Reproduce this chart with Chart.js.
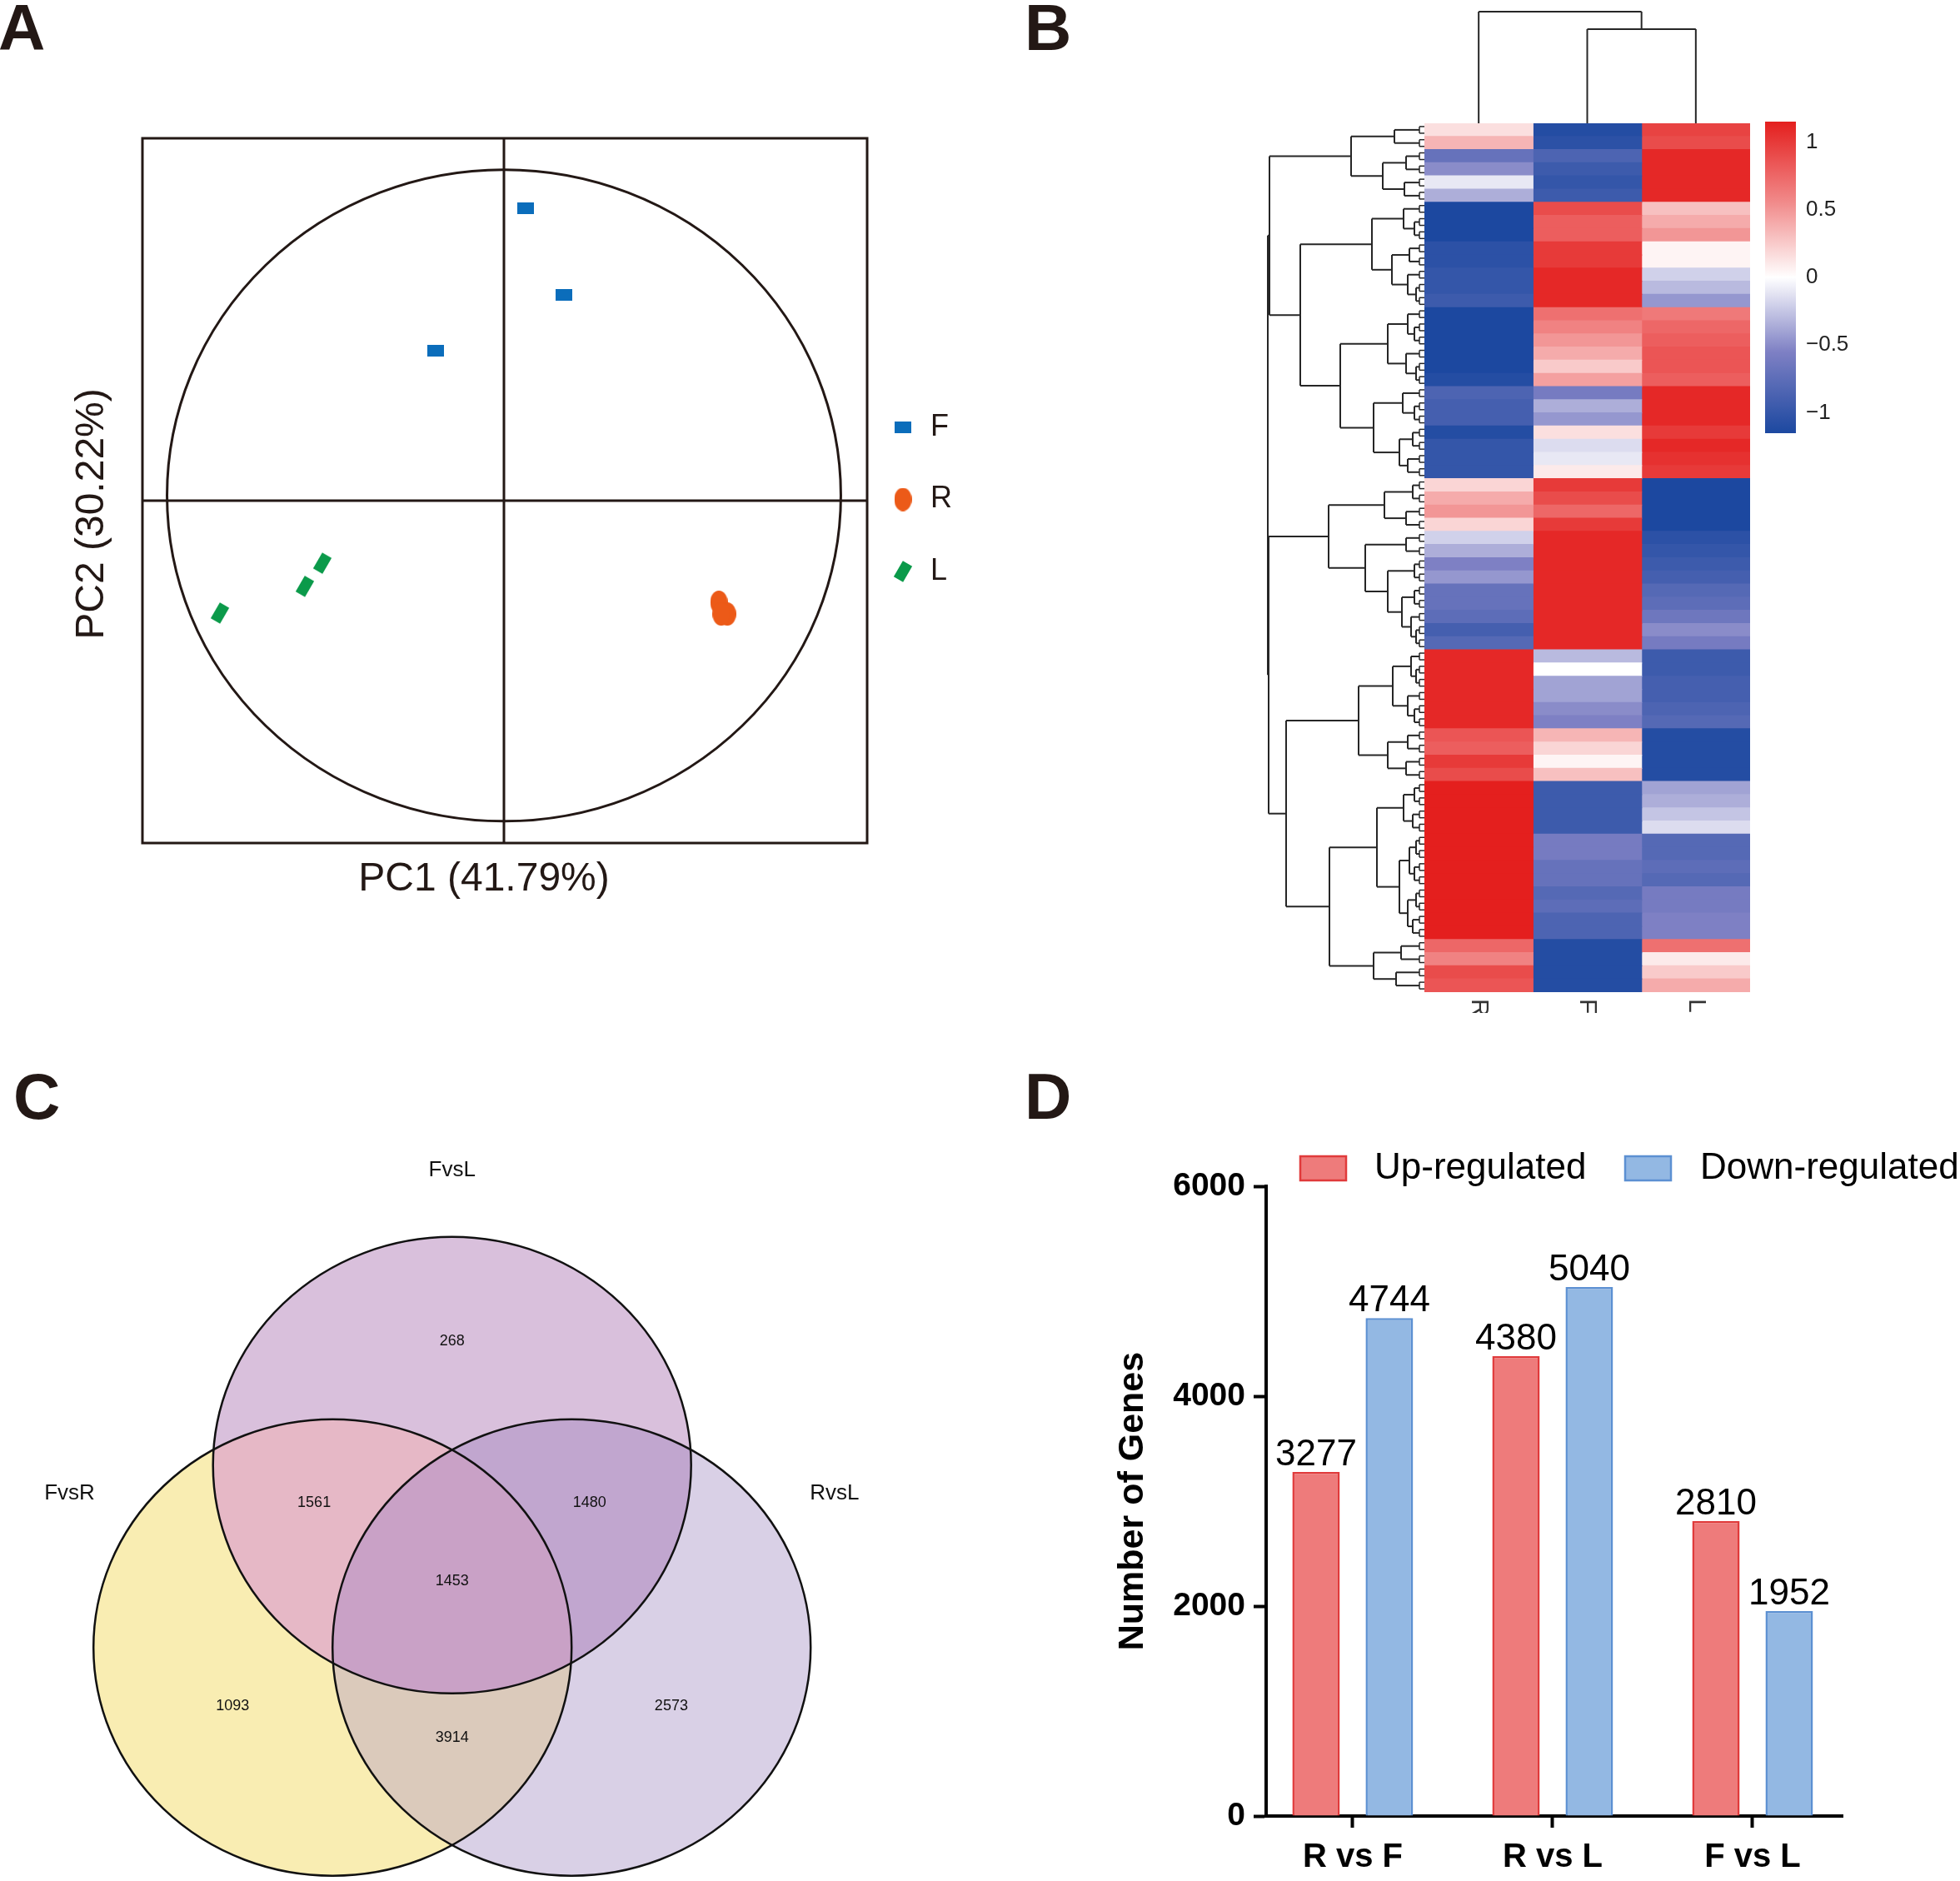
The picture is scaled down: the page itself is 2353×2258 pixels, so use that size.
<!DOCTYPE html>
<html>
<head>
<meta charset="utf-8">
<script src="https://cdn.jsdelivr.net/npm/chart.js@4.4.1/dist/chart.umd.min.js"></script>
<style>
html, body { margin: 0; padding: 0; background: #fff; }
body { width: 2353px; height: 2258px; position: relative; overflow: hidden; }
canvas { position: absolute; }
.tag { position: absolute; font: bold 78px/78px "Liberation Sans", Arial, sans-serif; color: #231815; }
</style>
</head>
<body>
<div class="tag" style="left:-2px;top:-6px">A</div>
<div class="tag" style="left:1230px;top:-6px">B</div>
<div class="tag" style="left:16px;top:1277px">C</div>
<div class="tag" style="left:1230px;top:1277px">D</div>
<canvas id="pca" style="left:0;top:0" width="1240" height="1130"></canvas>
<canvas id="heat" style="left:1480px;top:0" width="873" height="1240"></canvas>
<canvas id="venn" style="left:0;top:1250px" width="1150" height="1008"></canvas>
<canvas id="deg" style="left:1290px;top:1330px" width="1063" height="928"></canvas>
<script>
// ---- A: PCA scores ----
const pc1F = [0.064, 0.178, -0.203];
const pc2F = [0.898, 0.632, 0.46];
const pc1R = [0.638, 0.663, 0.645];
const pc2R = [-0.312, -0.348, -0.348];
const pc1L = [-0.539, -0.591, -0.843];
const pc2L = [-0.192, -0.263, -0.345];

// ---- B: row z-scores, top to bottom ----
const heatSamples = ["R", "F", "L"];
const heatR = [0.15, 0.35, -0.7, -0.5, -0.1, -0.35, -1.15, -1.15, -1.15, -1.05, -1.05, -1.0, -1.0, -0.95,
  -1.15, -1.15, -1.15, -1.15, -1.15, -1.1, -0.85, -0.9, -0.9, -1.1, -1.0, -1.0, -1.0,
  0.2, 0.4, 0.5, 0.2, -0.2, -0.35, -0.55, -0.45, -0.7, -0.7, -0.75, -0.9, -0.8,
  1.1, 1.1, 1.1, 1.1, 1.1, 1.1, 0.85, 0.8, 1.0, 0.9,
  1.15, 1.15, 1.15, 1.15, 1.15, 1.15, 1.15, 1.15, 1.15, 1.15, 1.15, 1.15, 0.75, 0.6, 0.9, 0.85];
const heatF = [-1.1, -1.05, -0.85, -0.95, -1.0, -0.95, 0.9, 0.8, 0.8, 1.0, 1.0, 1.1, 1.1, 1.1,
  0.7, 0.6, 0.5, 0.4, 0.25, 0.45, -0.6, -0.35, -0.45, 0.15, -0.15, -0.1, 0.1,
  1.0, 0.9, 0.75, 1.0, 1.1, 1.1, 1.1, 1.1, 1.1, 1.1, 1.1, 1.1, 1.1,
  -0.3, 0.0, -0.4, -0.4, -0.5, -0.55, 0.35, 0.2, 0.05, 0.3,
  -0.95, -0.95, -0.95, -0.95, -0.6, -0.6, -0.7, -0.7, -0.8, -0.75, -0.85, -0.85, -1.1, -1.1, -1.1, -1.1];
const heatL = [0.95, 0.9, 1.1, 1.1, 1.1, 1.1, 0.3, 0.4, 0.5, 0.05, 0.05, -0.2, -0.3, -0.45,
  0.65, 0.75, 0.8, 0.85, 0.85, 0.8, 1.1, 1.1, 1.1, 1.0, 1.1, 1.05, 1.0,
  -1.15, -1.15, -1.15, -1.15, -1.05, -1.0, -0.95, -0.9, -0.8, -0.75, -0.65, -0.5, -0.6,
  -0.95, -0.95, -0.9, -0.9, -0.85, -0.8, -1.1, -1.1, -1.1, -1.1,
  -0.4, -0.35, -0.25, -0.15, -0.8, -0.8, -0.75, -0.8, -0.6, -0.6, -0.55, -0.55, 0.7, 0.1, 0.25, 0.4];
const colorbarTicks = [1, 0.5, 0, -0.5, -1];
// row tree: [height, left, right], leaves are row indices
const rowTree = [188,
  [186,
    [88, [36, 0, 1], [50, [22, 2, 3], [24, 4, 5]]],
    [149,
      [63, [25, 6, [12, 7, 8]], [39, [18, 9, 10], [20, 11, [10, 12, 13]]]],
      [101, [44, [20, 14, [12, 15, 16]], [22, 17, [10, 18, 19]]],
            [61, [26, 20, [12, 21, 22]], [30, [14, 23, 24], [20, 25, 26]]]]]],
  [187,
    [115, [48, [14, 27, 28], [22, 29, 30]],
          [71, [22, 31, 32], [44, [12, 33, 34], [27, [12, 35, 36], [16, 37, [10, 38, 39]]]]]],
    [166,
      [79, [38, [16, 40, [10, 41, 42]], [20, 43, [12, 44, 45]]], [44, [20, 46, 47], [22, 48, 49]]],
      [114, [57, [25, [12, 50, 51], [14, 52, 53]], [30, [18, [10, 54, 55], [12, 56, 57]], [20, [10, 58, 59], [14, 60, 61]]]],
            [61, [28, 62, 63], [34, 64, 65]]]]]];
const colTree = [134, 0, [113, 1, 2]];

// ---- C: Venn counts ----
const vennSets = ["FvsL", "FvsR", "RvsL"];
const vennRegions = ["FvsL", "FvsR", "RvsL", "FvsL&FvsR", "FvsL&RvsL", "FvsR&RvsL", "FvsL&FvsR&RvsL"];
const vennCounts = [268, 1093, 2573, 1561, 1480, 3914, 1453];

// ---- D: DEG counts ----
const comparisons = ["R vs F", "R vs L", "F vs L"];
const upRegulated = [3277, 4380, 2810];
const downRegulated = [4744, 5040, 1952];

const FONT = '"Liberation Sans", Arial, Helvetica, sans-serif';
Chart.defaults.font.family = FONT;
Chart.defaults.animation = false;
Chart.defaults.plugins.legend.display = false;
Chart.defaults.plugins.tooltip.enabled = false;

// ---------- A ----------
function marker(w, h, draw) {
    const c = document.createElement("canvas");
    c.width = w;
    c.height = h;
    draw(c.getContext("2d"), w, h);
    return c;
}
const mkF = marker(20, 14, (g, w, h) => { g.fillStyle = "#0b6dbb"; g.fillRect(0, 0, w, h); });
const mkR = marker(21, 28, (g, w, h) => {
    g.fillStyle = "#ec5a18";
    g.beginPath();
    g.ellipse(w / 2, h / 2, w / 2, h / 2, 0, 0, Math.PI * 2);
    g.fill();
});
const mkL = marker(26, 28, (g, w, h) => {
    g.fillStyle = "#0b9a4a";
    g.translate(w / 2, h / 2);
    g.rotate(Math.PI / 6);
    g.fillRect(-6.5, -11, 13, 22);
});
const pcaMarkers = [mkF, mkR, mkL];

const pcaFrame = {
    id: "pcaFrame",
    beforeDatasetsDraw(chart) {
        const { ctx, chartArea: a, scales: { x, y } } = chart;
        ctx.save();
        ctx.strokeStyle = "#231815";
        ctx.lineWidth = 3;
        ctx.strokeRect(a.left, a.top, a.width, a.height);
        const x0 = x.getPixelForValue(0), y0 = y.getPixelForValue(0);
        ctx.beginPath();
        ctx.moveTo(x0, a.top); ctx.lineTo(x0, a.bottom);
        ctx.moveTo(a.left, y0); ctx.lineTo(a.right, y0);
        ctx.stroke();
        const cy = y.getPixelForValue(0.016);
        ctx.beginPath();
        ctx.ellipse(x0, cy, x.getPixelForValue(1) - x0, y0 - y.getPixelForValue(1), 0, 0, Math.PI * 2);
        ctx.stroke();
        ctx.restore();
    },
    afterDraw(chart) {
        const ctx = chart.ctx;
        ctx.save();
        ctx.fillStyle = "#231815";
        ctx.font = "48px " + FONT;
        ctx.textAlign = "center";
        ctx.textBaseline = "middle";
        ctx.fillText("PC1 (41.79%)", 581, 1056);
        ctx.translate(111, 617);
        ctx.rotate(-Math.PI / 2);
        ctx.fillText("PC2 (30.22%)", 0, 0);
        ctx.restore();
        ctx.save();
        ctx.fillStyle = "#231815";
        ctx.font = "36px " + FONT;
        ctx.textBaseline = "middle";
        chart.data.datasets.forEach((ds, i) => {
            const ly = 513 + i * 86.5, m = pcaMarkers[i];
            ctx.drawImage(m, 1084 - m.width / 2, ly - m.height / 2);
            ctx.fillText(ds.label, 1117, ly);
        });
        ctx.restore();
    },
};

new Chart(document.getElementById("pca"), {
    type: "scatter",
    data: {
        datasets: [
            { label: "F", data: pc1F.map((v, i) => ({ x: v, y: pc2F[i] })), pointStyle: mkF },
            { label: "R", data: pc1R.map((v, i) => ({ x: v, y: pc2R[i] })), pointStyle: mkR },
            { label: "L", data: pc1L.map((v, i) => ({ x: v, y: pc2L[i] })), pointStyle: mkL },
        ],
    },
    options: {
        responsive: false,
        layout: { padding: { left: 171, top: 166, right: 199, bottom: 118 } },
        scales: {
            x: { display: false, min: -1.073, max: 1.078 },
            y: { display: false, min: -1.051, max: 1.1125 },
        },
    },
    plugins: [pcaFrame],
});

// ---------- B ----------
const heatStops = [[-1.15, [28, 72, 160]], [-0.55, [126, 128, 196]], [0, [255, 255, 255]], [0.55, [241, 139, 139]], [1.15, [228, 31, 30]]];
function zColor(v) {
    v = Math.max(-1.15, Math.min(1.15, v));
    for (let i = 1; i < heatStops.length; i++) {
        const [v1, c1] = heatStops[i];
        const [v0, c0] = heatStops[i - 1];
        if (v <= v1) {
            const t = (v - v0) / (v1 - v0);
            const c = c0.map((k, j) => Math.round(k + (c1[j] - k) * t));
            return `rgb(${c[0]},${c[1]},${c[2]})`;
        }
    }
    return "rgb(228,31,30)";
}
const heatCols = [heatR, heatF, heatL];
const rowIds = heatR.map((_, i) => "gene cluster " + (i + 1));
const leafStub = 6;

const heatDecor = {
    id: "heatDecor",
    afterDatasetsDraw(chart) {
        const { ctx, chartArea: a, scales: { x, y } } = chart;
        ctx.save();
        ctx.strokeStyle = "#262626";
        ctx.lineWidth = 2;
        const seg = (x1, y1, x2, y2) => { ctx.beginPath(); ctx.moveTo(x1, y1); ctx.lineTo(x2, y2); ctx.stroke(); };
        const rx = h => a.left - h;
        const rowNode = n => {
            if (typeof n === "number") {
                const p = y.getPixelForValue(n);
                ctx.lineWidth = 1.5;
                seg(rx(leafStub), p - 4, rx(leafStub), p + 4);
                seg(rx(leafStub), p - 4, a.left, p - 4);
                seg(rx(leafStub), p + 4, a.left, p + 4);
                ctx.lineWidth = 2;
                return { p, h: leafStub };
            }
            const c1 = rowNode(n[1]), c2 = rowNode(n[2]);
            seg(rx(c1.h), c1.p, rx(n[0]), c1.p);
            seg(rx(c2.h), c2.p, rx(n[0]), c2.p);
            seg(rx(n[0]), c1.p, rx(n[0]), c2.p);
            return { p: (c1.p + c2.p) / 2, h: n[0] };
        };
        rowNode(rowTree);
        const cyy = h => a.top - h;
        const colNode = n => {
            if (typeof n === "number") return { p: x.getPixelForValue(n + 0.5), h: 0 };
            const c1 = colNode(n[1]), c2 = colNode(n[2]);
            seg(c1.p, cyy(c1.h), c1.p, cyy(n[0]));
            seg(c2.p, cyy(c2.h), c2.p, cyy(n[0]));
            seg(c1.p, cyy(n[0]), c2.p, cyy(n[0]));
            return { p: (c1.p + c2.p) / 2, h: n[0] };
        };
        colNode(colTree);
        ctx.restore();

        // colour key
        const cb = { x: 639, w: 37, top: 146, bottom: 520 };
        const vy = v => cb.top + (1.15 - v) / 2.3 * (cb.bottom - cb.top);
        const grad = ctx.createLinearGradient(0, cb.top, 0, cb.bottom);
        for (let k = 0; k <= 46; k++) {
            const v = 1.15 - k * 0.05;
            grad.addColorStop(k / 46, zColor(v));
        }
        ctx.save();
        ctx.fillStyle = grad;
        ctx.fillRect(cb.x, cb.top, cb.w, cb.bottom - cb.top);
        ctx.fillStyle = "#222";
        ctx.font = "26px " + FONT;
        ctx.textBaseline = "middle";
        colorbarTicks.forEach(t => {
            const s = t < 0 ? "\u2212" + String(-t) : String(t);
            ctx.fillText(s, 688, vy(t));
        });
        ctx.restore();

        // column labels (clipped like the original)
        ctx.save();
        ctx.beginPath();
        ctx.rect(0, a.bottom, chart.width, 1216 - a.bottom);
        ctx.clip();
        ctx.fillStyle = "#333";
        ctx.font = "30px " + FONT;
        ctx.textBaseline = "middle";
        heatSamples.forEach((s, j) => {
            ctx.save();
            ctx.translate(x.getPixelForValue(j + 0.5), a.bottom + 8);
            ctx.rotate(Math.PI / 2);
            ctx.fillText(s, 0, 0);
            ctx.restore();
        });
        ctx.restore();
    },
};

new Chart(document.getElementById("heat"), {
    type: "bar",
    data: {
        labels: rowIds,
        datasets: heatSamples.map((s, j) => ({
            label: s,
            data: rowIds.map(() => 1),
            backgroundColor: heatCols[j].map(zColor),
            borderWidth: 0,
            barPercentage: 1,
            categoryPercentage: 1,
            inflateAmount: 0.6,
        })),
    },
    options: {
        indexAxis: "y",
        responsive: false,
        layout: { padding: { left: 230, top: 148, right: 252, bottom: 49 } },
        scales: {
            x: { stacked: true, display: false, min: 0, max: 3 },
            y: { stacked: true, display: false },
        },
    },
    plugins: [heatDecor],
});

// ---------- C ----------
const vennCenters = [[0, 0.533], [-0.5, -0.266], [0.5, -0.266]];
const vennNameAt = [[0, 1.825], [-1.6, 0.409], [1.6, 0.409]];
const vennCountAt = [[0, 1.077], [-0.918, -0.522], [0.917, -0.522], [-0.577, 0.369], [0.575, 0.369], [0, -0.66], [0, 0.026]];
const vennSingle = ["#d9c0dc", "#f9edb2", "#d9d0e6"];
const vennPair = { "0-1": "#e6b8c6", "0-2": "#c1a6cf", "1-2": "#dbcabb" };
const vennAll = "#c9a1c6";

const vennDraw = {
    id: "vennDraw",
    beforeDatasetsDraw(chart) {
        const { ctx, scales: { x, y } } = chart;
        const rx = x.getPixelForValue(1) - x.getPixelForValue(0);
        const ry = y.getPixelForValue(0) - y.getPixelForValue(1);
        const ell = i => {
            ctx.beginPath();
            ctx.ellipse(x.getPixelForValue(vennCenters[i][0]), y.getPixelForValue(vennCenters[i][1]), rx, ry, 0, 0, Math.PI * 2);
        };
        ctx.save();
        vennSingle.forEach((c, i) => { ell(i); ctx.fillStyle = c; ctx.fill(); });
        Object.entries(vennPair).forEach(([k, c]) => {
            const [i, j] = k.split("-").map(Number);
            ctx.save(); ell(i); ctx.clip(); ell(j); ctx.fillStyle = c; ctx.fill(); ctx.restore();
        });
        ctx.save(); ell(0); ctx.clip(); ell(1); ctx.clip(); ell(2); ctx.fillStyle = vennAll; ctx.fill(); ctx.restore();
        ctx.strokeStyle = "#111";
        ctx.lineWidth = 2.5;
        [0, 1, 2].forEach(i => { ell(i); ctx.stroke(); });
        ctx.fillStyle = "#111";
        ctx.textAlign = "center";
        ctx.textBaseline = "middle";
        ctx.font = "26px " + FONT;
        vennSets.forEach((s, i) => ctx.fillText(s, x.getPixelForValue(vennNameAt[i][0]), y.getPixelForValue(vennNameAt[i][1])));
        ctx.restore();
    },
    afterDatasetsDraw(chart) {
        const ctx = chart.ctx;
        ctx.save();
        ctx.fillStyle = "#111";
        ctx.textAlign = "center";
        ctx.textBaseline = "middle";
        ctx.font = "18px " + FONT;
        chart.getDatasetMeta(0).data.forEach((pt, i) => ctx.fillText(String(vennCounts[i]), pt.x, pt.y));
        ctx.restore();
    },
};

new Chart(document.getElementById("venn"), {
    type: "scatter",
    data: {
        labels: vennRegions,
        datasets: [{
            label: "genes",
            data: vennCountAt.map(p => ({ x: p[0], y: p[1] })),
            pointRadius: 0,
        }],
    },
    options: {
        responsive: false,
        scales: {
            x: { display: false, min: -1.891, max: 2.116 },
            y: { display: false, min: -1.289, max: 2.39 },
        },
    },
    plugins: [vennDraw],
});

// ---------- D ----------
const degDecor = {
    id: "degDecor",
    afterDatasetsDraw(chart) {
        const ctx = chart.ctx;
        ctx.save();
        ctx.fillStyle = "#000";
        ctx.textAlign = "center";
        ctx.textBaseline = "alphabetic";
        ctx.font = "44px " + FONT;
        chart.data.datasets.forEach((ds, di) => {
            chart.getDatasetMeta(di).data.forEach((el, i) => ctx.fillText(String(ds.data[i].y), el.x, el.y - 8));
        });
        // legend
        ctx.textAlign = "left";
        ctx.textBaseline = "middle";
        const boxX = [271, 661], textX = [360, 751];
        chart.data.datasets.forEach((ds, di) => {
            ctx.fillStyle = ds.backgroundColor;
            ctx.fillRect(boxX[di], 58, 55, 29);
            ctx.strokeStyle = ds.borderColor;
            ctx.lineWidth = 2.5;
            ctx.strokeRect(boxX[di], 58, 55, 29);
            ctx.fillStyle = "#000";
            ctx.fillText(ds.label, textX[di], 73);
        });
        ctx.restore();
    },
};

new Chart(document.getElementById("deg"), {
    type: "bar",
    data: {
        datasets: [
            {
                label: "Up-regulated",
                data: upRegulated.map((v, i) => ({ x: i, y: v })),
                backgroundColor: "#ee7b7b",
                borderColor: "#e03a3b",
                borderWidth: 2.5,
                categoryPercentage: 0.733,
                barPercentage: 0.648,
            },
            {
                label: "Down-regulated",
                data: downRegulated.map((v, i) => ({ x: i, y: v })),
                backgroundColor: "#93b8e3",
                borderColor: "#5c90d2",
                borderWidth: 2.5,
                categoryPercentage: 0.733,
                barPercentage: 0.648,
            },
        ],
    },
    options: {
        responsive: false,
        layout: { padding: { left: 40, top: 94, right: 141, bottom: 0 } },
        scales: {
            x: {
                type: "linear",
                offset: false,
                min: -0.433,
                max: 2.45,
                afterFit: s => { s.height = 78; },
                ticks: {
                    stepSize: 1,
                    includeBounds: false,
                    padding: 12,
                    color: "#000",
                    font: { size: 40, weight: "bold" },
                    callback: v => comparisons[v] ?? "",
                },
                grid: { offset: false, drawOnChartArea: false, tickLength: 14, tickWidth: 4, tickColor: "#000" },
                border: { color: "#000", width: 4 },
            },
            y: {
                min: 0,
                max: 6000,
                afterFit: s => { s.width = 190; },
                ticks: {
                    stepSize: 2000,
                    padding: 10,
                    color: "#000",
                    font: { size: 39, weight: "bold" },
                    callback: v => String(v),
                },
                grid: { drawOnChartArea: false, tickLength: 15, tickWidth: 4, tickColor: "#000" },
                border: { color: "#000", width: 4 },
                title: {
                    display: true,
                    text: "Number of Genes",
                    color: "#000",
                    font: { size: 43, weight: "bold" },
                    padding: { top: 4, bottom: 4 },
                },
            },
        },
    },
    plugins: [degDecor],
});
</script>
</body>
</html>
